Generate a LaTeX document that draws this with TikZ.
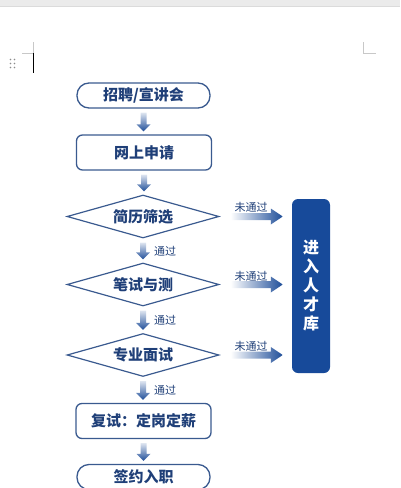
\documentclass[tikz,border=0pt]{standalone}
\usepackage{fontspec}
\newfontfamily\cjk{Noto Sans CJK SC}
\usetikzlibrary{calc,positioning,shapes.geometric}
\definecolor{flowblue}{HTML}{1F4E99}
\definecolor{edgeblue}{HTML}{3A5A8F}
\definecolor{textblue}{HTML}{1F3F78}
\definecolor{poolblue}{HTML}{174A9A}
\definecolor{pagegray}{HTML}{C8C8C8}

% shaded down arrow between two nodes
\newcommand\downflow[2]{%
  \shade[top color=flowblue!15, bottom color=flowblue]
    let \p1=(#1.south), \p2=(#2.north) in
    (\x1-3pt,\y1-4pt) -- (\x1+3pt,\y1-4pt) -- (\x1+3pt,\y2+10pt)
    -- (\x1+7pt,\y2+10pt) -- (\x1,\y2+3pt) -- (\x1-7pt,\y2+10pt)
    -- (\x1-3pt,\y2+10pt) -- cycle;}
% shaded arrow to the pool
\newcommand\sideflow[2]{%
  \shade[left color=white, right color=flowblue]
    let \p1=(#1.east), \p2=(#2.west) in
    (\x1+11pt,\y1+3.5pt) -- (\x2-21pt,\y1+3.5pt) -- (\x2-21pt,\y1+8pt)
    -- (\x2-9pt,\y1) -- (\x2-21pt,\y1-8pt) -- (\x2-21pt,\y1-3.5pt)
    -- (\x1+11pt,\y1-3.5pt) -- cycle;}

\begin{document}
\begin{tikzpicture}[
x=1pt, y=-1pt,
pill/.style={
  draw=edgeblue,
  line width=1.3pt,
  rounded corners=12pt,
  minimum width=133pt,
  minimum height=25pt,
  text=textblue,
  font=\cjk\bfseries\fontsize{15}{15}\selectfont
  },
stepbox/.style={
  pill,
  rounded corners=6pt,
  minimum height=35pt,
  minimum width=135pt
  },
check/.style={
  draw=edgeblue,
  line width=1.2pt,
  diamond,
  aspect=3.5,
  inner sep=0pt,
  minimum width=152pt,
  minimum height=43pt,
  text=textblue,
  font=\cjk\bfseries\fontsize{15}{15}\selectfont
  },
pool/.style={
  fill=poolblue,
  rounded corners=6pt,
  minimum width=38pt,
  minimum height=174pt,
  text=white,
  align=center,
  font=\cjk\bfseries\fontsize{16}{19}\selectfont
  },
note/.style={
  text=textblue,
  inner sep=0pt,
  font=\cjk\fontsize{11}{11}\selectfont
  },
>=latex
]
\useasboundingbox (0,0) rectangle (400,488);
% page around the chart
\fill[black!8] (0,0) rectangle (400,6);
\draw[black!14] (0,6) -- (400,6);
\draw[pagegray] (33,42) -- (33,53) -- (22,53);
\draw[pagegray] (363,42) -- (363,53) -- (376,53);
\draw[black, line width=0.9pt] (33,53) -- (33,73);
\foreach \yy in {59.5,63.5,67.5}
  \fill[black!45] (10.5,\yy) circle (0.9) (14.5,\yy) circle (0.9);

\node[pill] (talk) at (143.5,95.5) {招聘/宣讲会};
\node[stepbox] (apply) at (144,152.5) {网上申请};
\node[check] (resume) at (143,216.5) {简历筛选};
\node[check] (exam) at (143,284.5) {笔试与测};
\node[check] (interview) at (143,355) {专业面试};
\node[stepbox] (retest) at (143.5,421) {复试：定岗定薪};
\node[pill] (sign) at (143.5,477) {签约入职};
\node[pool] (talentpool) at (311,286) {进\\入\\人\\才\\库};

\downflow{talk}{apply}
\downflow{apply}{resume}
\downflow{resume}{exam}
\downflow{exam}{interview}
\downflow{interview}{retest}
\downflow{retest}{sign}
\node[note] at (165,251) {通过};
\node[note] at (165,320) {通过};
\node[note] at (165,390) {通过};

\sideflow{resume}{talentpool}
\sideflow{exam}{talentpool}
\sideflow{interview}{talentpool}
\node[note] at (251,207) {未通过};
\node[note] at (251,276) {未通过};
\node[note] at (251,346) {未通过};
\end{tikzpicture}
\end{document}
